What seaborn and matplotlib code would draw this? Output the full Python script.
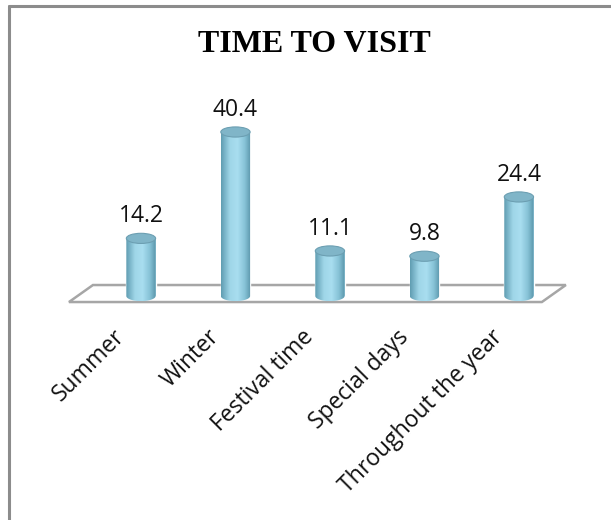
"""
Time to visit - 3D-style cylinder bar chart (Excel look) rebuilt with seaborn.
"""

import numpy as np
import matplotlib
matplotlib.use("Agg")
import matplotlib.pyplot as plt
from matplotlib.colors import LinearSegmentedColormap
from matplotlib.patches import Ellipse, PathPatch, Polygon
from matplotlib.path import Path
from matplotlib.lines import Line2D
from matplotlib.transforms import offset_copy
import seaborn as sns


TITLE = "TIME TO VISIT"
CATEGORIES = ["Summer", "Winter", "Festival time", "Special days", "Throughout the year"]
VALUES = [14.2, 40.4, 11.1, 9.8, 24.4]

BODY_COLOR = "#8ccbe0"
TOP_COLOR = "#80b5c8"
FLOOR_EDGE = "#a6a6a6"
BORDER_COLOR = "#8c8c8c"


# ============================================================

def draw_cylinder(ax, patch, cmap, ry):
    x0 = patch.get_x()
    w = patch.get_width()
    h = patch.get_height()
    cx = x0 + w / 2

    # body outline: straight sides + rounded bottom
    t = np.linspace(0, np.pi, 40)
    bottom = np.column_stack([cx - (w / 2) * np.cos(t), -ry * np.sin(t)])
    verts = np.vstack([[x0, h], bottom, [x0 + w, h], [x0, h]])
    clip = PathPatch(Path(verts), transform=ax.transData, facecolor="none", edgecolor="none")
    ax.add_patch(clip)

    img = ax.imshow(np.linspace(0, 1, 256)[None, :], extent=(x0, x0 + w, -ry, h),
                    aspect="auto", cmap=cmap, zorder=3, interpolation="bilinear")
    img.set_clip_path(clip)

    ax.add_patch(Ellipse((cx, h), w, 2 * ry, facecolor=TOP_COLOR,
                         edgecolor="#6c9fb2", lw=0.8, zorder=4))
    return cx, h


def main():
    sns.set_style("white")
    plt.rcParams["font.family"] = ["Open Sans", "DejaVu Sans"]

    fig = plt.figure(figsize=(6.11, 5.2), dpi=100)
    ax = fig.add_axes([0.107, 0.4073, 0.866, 0.3826])

    sns.barplot(x=CATEGORIES, y=VALUES, color=BODY_COLOR, width=0.31,
                saturation=1, ax=ax, zorder=2)

    xlim = (-0.8, 4.8)
    ylim = (-3, 46)

    # floor of the 3D plot area
    floor = Polygon([(-0.762, -1.48), (-0.508, 2.71), (4.497, 2.71), (4.243, -1.48)],
                    closed=True, facecolor="white", edgecolor=FLOOR_EDGE, lw=1.8, zorder=1)
    ax.add_patch(floor)

    cmap = LinearSegmentedColormap.from_list(
        "cyl", [(0, "#5f9cb1"), (0.3, "#9fd6e8"), (0.55, "#a9def0"), (0.8, "#86c2d6"), (1, "#5a95aa")])
    ry = 1.25

    for patch, val, cat in zip(ax.patches[:len(VALUES)], VALUES, CATEGORIES):
        cx, h = draw_cylinder(ax, patch, cmap, ry)
        ax.annotate(f"{val}", (cx, h), xytext=(0, 22), textcoords="offset pixels",
                    ha="center", va="center", fontsize=16.5, color="#111111")
        tr = offset_copy(ax.transData, fig=fig, x=-28, y=-29, units="dots")
        ax.text(cx, 0, cat, transform=tr, rotation=45, rotation_mode="anchor",
                ha="right", va="top", fontsize=16.5, color="#111111")

    ax.set_xlim(*xlim)
    ax.set_ylim(*ylim)
    ax.set_axis_off()

    fig.text(0.515, 0.915, TITLE, ha="center", va="center", fontsize=23,
             fontweight="bold", color="black", family=["Liberation Serif", "DejaVu Serif"])

    # chart frame (only left and top edges visible in the crop)
    fig.add_artist(Line2D([9 / 611, 9 / 611], [0, 1 - 6 / 520], transform=fig.transFigure,
                          color=BORDER_COLOR, lw=2.2))
    fig.add_artist(Line2D([9 / 611, 1], [1 - 6 / 520, 1 - 6 / 520], transform=fig.transFigure,
                          color=BORDER_COLOR, lw=2.2))

    fig.savefig("out.png", dpi=100)


if __name__ == "__main__":
    main()
